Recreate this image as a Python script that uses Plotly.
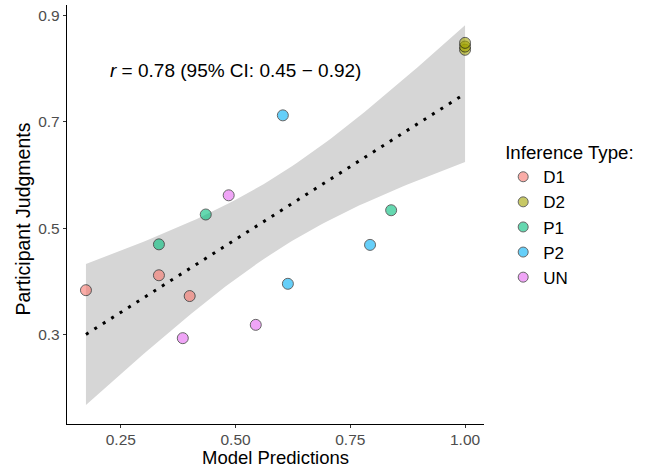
import numpy as np
import plotly.graph_objects as go

# ---- data ----
types = ["D1", "D2", "P1", "P2", "UN"]
colors = ["#F8766D", "#A3A500", "#00BF7D", "#00B0F6", "#E76BF3"]
x_D1 = [0.174, 0.333, 0.400]
y_D1 = [0.384, 0.412, 0.373]
x_D2 = [1.000, 1.000, 1.000]
y_D2 = [0.835, 0.841, 0.848]
x_P1 = [0.333, 0.435, 0.839]
y_P1 = [0.470, 0.526, 0.534]
x_P2 = [0.603, 0.614, 0.793]
y_P2 = [0.712, 0.396, 0.469]
x_UN = [0.485, 0.544, 0.385]
y_UN = [0.562, 0.319, 0.294]
xs = [x_D1, x_D2, x_P1, x_P2, x_UN]
ys = [y_D1, y_D2, y_P1, y_P2, y_UN]

x_ticks = [0.25, 0.50, 0.75, 1.00]
x_tick_labels = ["0.25", "0.50", "0.75", "1.00"]
y_ticks = [0.3, 0.5, 0.7, 0.9]
y_tick_labels = ["0.3", "0.5", "0.7", "0.9"]
annotation_text = "<i>r</i> = 0.78 (95% CI: 0.45 \u2212 0.92)"
x_title = "Model Predictions"
y_title = "Participant Judgments"
legend_title = "Inference Type:"

# ---- linear fit with 95% confidence band (like geom_smooth(method='lm')) ----
X = np.concatenate([np.array(v) for v in xs])
Y = np.concatenate([np.array(v) for v in ys])
n = len(X)
b1, b0 = np.polyfit(X, Y, 1)
resid = Y - (b0 + b1 * X)
s = np.sqrt(np.sum(resid ** 2) / (n - 2))
xbar = X.mean()
sxx = np.sum((X - xbar) ** 2)
t_crit = 2.160  # t(0.975, df=13)
xg = np.linspace(X.min(), X.max(), 80)
yg = b0 + b1 * xg
se = s * np.sqrt(1 / n + (xg - xbar) ** 2 / sxx)
upper = yg + t_crit * se
lower = yg - t_crit * se

fig = go.Figure()
fig.add_trace(go.Scatter(
    x=np.concatenate([xg, xg[::-1]]), y=np.concatenate([upper, lower[::-1]]),
    fill="toself", fillcolor="rgb(214,214,214)", line=dict(width=0),
    mode="lines", hoverinfo="skip", showlegend=False))
fig.add_trace(go.Scatter(
    x=xg, y=yg, mode="lines", showlegend=False,
    line=dict(color="black", width=3, dash="3px,7px")))

for t, c, xv, yv in zip(types, colors, xs, ys):
    fig.add_trace(go.Scatter(
        x=xv, y=yv, mode="markers", name=t, showlegend=False,
        marker=dict(size=11, color=c, opacity=0.6,
                    line=dict(color="black", width=1))))
# legend entries (smaller keys, as in the reference)
for t, c in zip(types, colors):
    fig.add_trace(go.Scatter(
        x=[None], y=[None], mode="markers", name=t,
        marker=dict(size=10, color=c, opacity=0.6,
                    line=dict(color="black", width=1))))

fig.add_annotation(x=0.5007, y=0.797, xref="x", yref="y", text=annotation_text,
                   showarrow=False, font=dict(size=19, color="black"))
# axis titles
fig.add_annotation(x=0.5, y=0, xref="paper", yref="paper", yshift=-33,
                   xanchor="center", yanchor="middle", text=x_title,
                   showarrow=False, font=dict(size=18.5, color="black"))
fig.add_annotation(x=0, y=0.5, xref="paper", yref="paper", xshift=-45, yshift=-5,
                   xanchor="center", yanchor="middle", textangle=-90, text=y_title,
                   showarrow=False, font=dict(size=19.5, color="black"))

font = "Liberation Sans, Arial, sans-serif"
fig.update_layout(
    width=652, height=467,
    margin=dict(l=67, r=168, t=5, b=43),
    plot_bgcolor="white", paper_bgcolor="white",
    font=dict(family=font, color="black"),
    legend=dict(
        title=dict(text=legend_title, font=dict(size=18.7)),
        font=dict(size=17), x=1.046, y=0.69, xanchor="left", yanchor="top",
        itemwidth=30, tracegroupgap=0),
)
fig.update_xaxes(
    range=[0.1327, 1.0413], tickvals=x_ticks, ticktext=x_tick_labels,
    showgrid=False, zeroline=False, showline=True, linecolor="black", linewidth=1.3,
    ticks="outside", ticklen=3, tickcolor="#333333", automargin=False,
    ticklabelstandoff=-2,
    tickfont=dict(size=15.5, color="#4d4d4d"))
fig.update_yaxes(
    range=[0.133, 0.919], tickvals=y_ticks, ticktext=y_tick_labels,
    showgrid=False, zeroline=False, showline=True, linecolor="black", linewidth=1.3,
    ticks="outside", ticklen=3, tickcolor="#333333", automargin=False,
    tickfont=dict(size=15.5, color="#4d4d4d"))

fig.write_html("out.html", post_script="document.body.style.margin='0';",
               config={"displayModeBar": False})
